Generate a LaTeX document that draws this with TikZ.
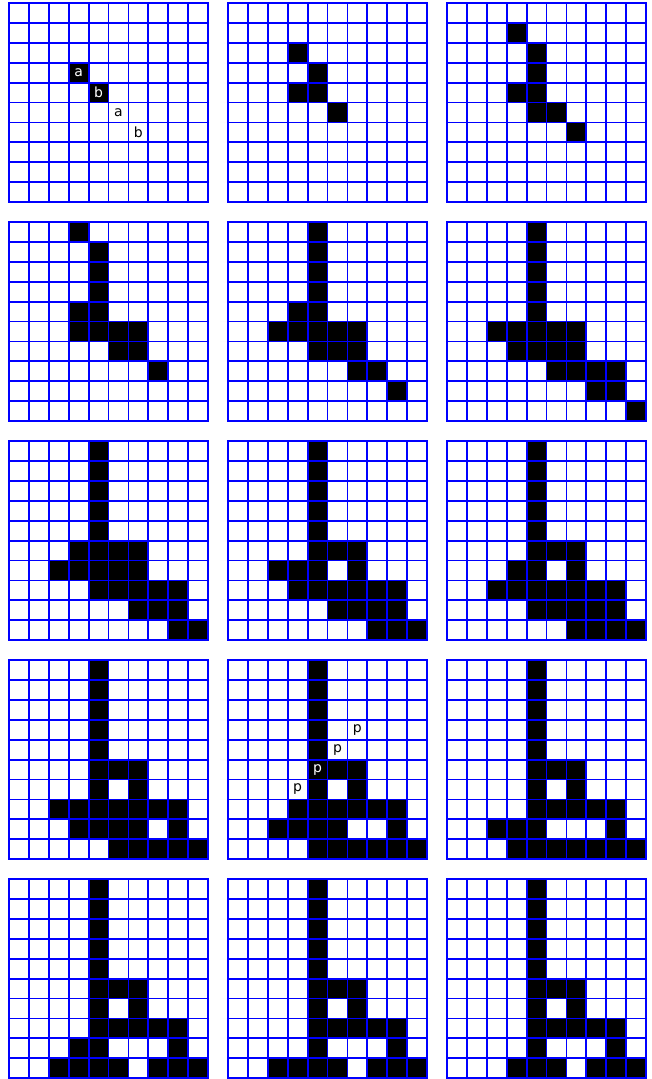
\documentclass[tikz,border=0pt]{standalone}
\usepackage{fontspec}
\newfontfamily\cellfont{DejaVu Sans}
\tikzset{
  live/.style={fill=black},
  gridline/.style={blue,line width=1.3pt,line cap=rect},
  txton/.style={text=white,font=\cellfont\normalsize,inner sep=0pt},
  txtoff/.style={text=black,font=\cellfont\normalsize,inner sep=0pt},
}
% one 10x10 board: #1 = board column, #2 = board row, #3 = live cells row/col
\newcommand{\cagrid}[3]{%
  \begin{scope}[shift={(11*#1,-11*#2)}]
    \foreach \r/\c in {#3} \fill[live] (\c,-\r) rectangle ++(1,-1);
    \draw[gridline,step=0.5cm] (0,0) grid (10,-10);
  \end{scope}}
\begin{document}
\begin{tikzpicture}[x=0.5cm,y=0.5cm]
    \useasboundingbox (-0.45,0.15) rectangle (32.25,-54.04);
    % first row of boards
    \cagrid{0}{0}{3/3,4/4}
    \cagrid{1}{0}{2/3,3/4,4/3,4/4,5/5}
    \cagrid{2}{0}{1/3,2/4,3/4,4/3,4/4,5/4,5/5,6/6}
    % second row
    \cagrid{0}{1}{0/3,1/4,2/4,3/4,4/3,4/4,5/3,5/4,5/5,5/6,6/5,6/6,7/7}
    \cagrid{1}{1}{0/4,1/4,2/4,3/4,4/3,4/4,5/2,5/3,5/4,5/5,5/6,6/4,6/5,6/6,7/6,7/7,8/8}
    \cagrid{2}{1}{0/4,1/4,2/4,3/4,4/4,5/2,5/3,5/4,5/5,5/6,6/3,6/4,6/5,6/6,7/5,7/6,7/7,7/8,8/7,8/8,9/9}
    % third row
    \cagrid{0}{2}{0/4,1/4,2/4,3/4,4/4,5/3,5/4,5/5,5/6,6/2,6/3,6/4,6/5,6/6,7/4,7/5,7/6,7/7,7/8,8/6,8/7,8/8,9/8,9/9}
    \cagrid{1}{2}{0/4,1/4,2/4,3/4,4/4,5/4,5/5,5/6,6/2,6/3,6/4,6/6,7/3,7/4,7/5,7/6,7/7,7/8,8/5,8/6,8/7,8/8,9/7,9/8,9/9}
    \cagrid{2}{2}{0/4,1/4,2/4,3/4,4/4,5/4,5/5,5/6,6/3,6/4,6/6,7/2,7/3,7/4,7/5,7/6,7/7,7/8,8/4,8/5,8/6,8/7,8/8,9/6,9/7,9/8,9/9}
    % fourth row
    \cagrid{0}{3}{0/4,1/4,2/4,3/4,4/4,5/4,5/5,5/6,6/4,6/6,7/2,7/3,7/4,7/5,7/6,7/7,7/8,8/3,8/4,8/5,8/6,8/8,9/5,9/6,9/7,9/8,9/9}
    \cagrid{1}{3}{0/4,1/4,2/4,3/4,4/4,5/4,5/5,5/6,6/4,6/6,7/3,7/4,7/5,7/6,7/7,7/8,8/2,8/3,8/4,8/5,8/8,9/4,9/5,9/6,9/7,9/8,9/9}
    \cagrid{2}{3}{0/4,1/4,2/4,3/4,4/4,5/4,5/5,5/6,6/4,6/6,7/4,7/5,7/6,7/7,7/8,8/2,8/3,8/4,8/8,9/3,9/4,9/5,9/6,9/7,9/8,9/9}
    % last row
    \cagrid{0}{4}{0/4,1/4,2/4,3/4,4/4,5/4,5/5,5/6,6/4,6/6,7/4,7/5,7/6,7/7,7/8,8/3,8/4,8/8,9/2,9/3,9/4,9/5,9/7,9/8,9/9}
    \cagrid{1}{4}{0/4,1/4,2/4,3/4,4/4,5/4,5/5,5/6,6/4,6/6,7/4,7/5,7/6,7/7,7/8,8/4,8/8,9/2,9/3,9/4,9/5,9/7,9/8,9/9}
    \cagrid{2}{4}{0/4,1/4,2/4,3/4,4/4,5/4,5/5,5/6,6/4,6/6,7/4,7/5,7/6,7/7,7/8,8/4,8/8,9/3,9/4,9/5,9/7,9/8,9/9}
    % letters
    \node[txton]  (a1) at (3.5,-3.5) {a};
    \node[txton]  (b1) at (4.5,-4.5) {b};
    \node[txtoff] (a2) at (5.5,-5.5) {a};
    \node[txtoff] (b2) at (6.5,-6.5) {b};
    \node[txtoff] (p1) at (14.5,-39.5) {p};
    \node[txton]  (p2) at (15.5,-38.5) {p};
    \node[txtoff] (p3) at (16.5,-37.5) {p};
    \node[txtoff] (p4) at (17.5,-36.5) {p};
\end{tikzpicture}
\end{document}
